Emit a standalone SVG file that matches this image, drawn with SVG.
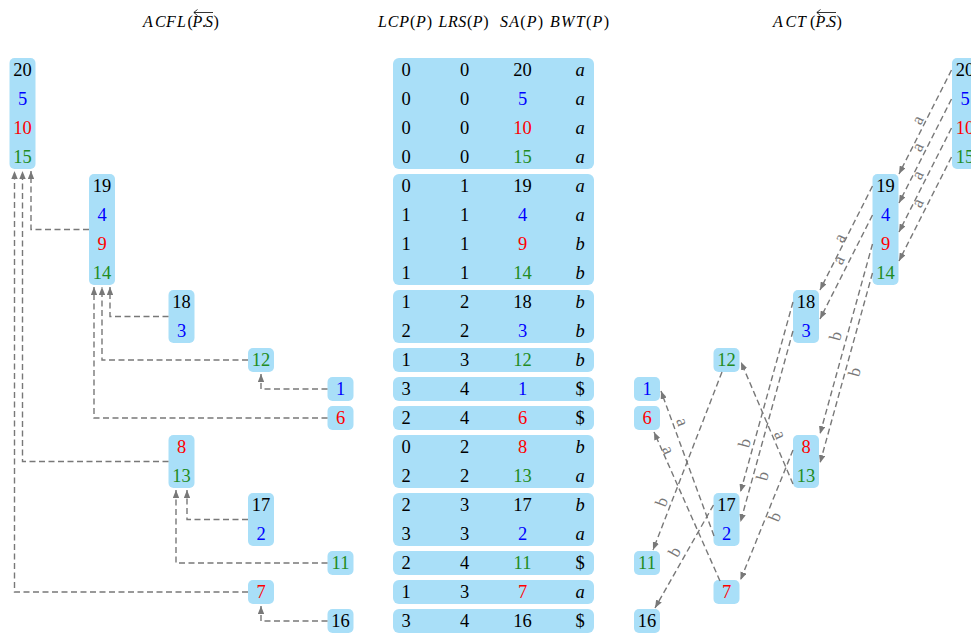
<svg xmlns="http://www.w3.org/2000/svg" width="971" height="635" viewBox="0 0 971 635">
<defs>
<style>
.box{fill:#a9dff8}
.n{font-family:"Liberation Serif","DejaVu Serif",serif;font-size:18.5px;text-anchor:middle}
.k{fill:#000}.bl{fill:#0000ff}.r{fill:#ff0000}.g{fill:#228b22}
.i{font-style:italic}
.e{fill:none;stroke:#787878;stroke-width:1.4;stroke-dasharray:6 3.5;marker-end:url(#ah)}
.lb{font-family:"Liberation Serif","DejaVu Serif",serif;font-size:17px;fill:#787878;text-anchor:middle}
.h{font-family:"Liberation Serif","DejaVu Serif",serif;font-size:16px;fill:#000}
.ov{fill:none;stroke:#000;stroke-width:0.8}
</style>
<marker id="ah" viewBox="0 0 10 8" refX="10" refY="4" markerWidth="8" markerHeight="6.4" markerUnits="userSpaceOnUse" orient="auto"><path d="M0,0 L10,4 L0,8 z" fill="#787878"/></marker>
</defs>
<rect width="971" height="635" fill="#fff"/>

<g id="headers">
<text class="h" y="27"><tspan class="i" x="143 155 166 177">ACFL</tspan><tspan x="187.5">(</tspan><tspan class="i" x="192.5">P</tspan><tspan x="202">.</tspan><tspan class="i" x="205">S</tspan><tspan x="213.5">)</tspan></text>
<path class="ov" d="M213,12.5 H194 M197.5,9.5 L193.8,12.5 L197.5,15.5"/>
<text class="h" x="378" y="27" textLength="54" lengthAdjust="spacing"><tspan class="i">LCP</tspan>(<tspan class="i">P</tspan>)</text>
<text class="h" x="438.5" y="27" textLength="50" lengthAdjust="spacing"><tspan class="i">LRS</tspan>(<tspan class="i">P</tspan>)</text>
<text class="h" x="500" y="27" textLength="43" lengthAdjust="spacing"><tspan class="i">SA</tspan>(<tspan class="i">P</tspan>)</text>
<text class="h" x="550" y="27" textLength="59" lengthAdjust="spacing"><tspan class="i">BWT</tspan>(<tspan class="i">P</tspan>)</text>
<text class="h" y="27"><tspan class="i" x="773 785.5 797">ACT</tspan><tspan x="810">(</tspan><tspan class="i" x="815.5">P</tspan><tspan x="825">.</tspan><tspan class="i" x="828">S</tspan><tspan x="836.5">)</tspan></text>
<path class="ov" d="M836,12.5 H817 M820.5,9.5 L816.8,12.5 L820.5,15.5"/>
</g>

<!-- Left tree ACFL -->
<g id="acfl-20"><rect class="box" x="9.5" y="58" width="26" height="111" rx="5"/>
<text class="n k" x="22.5" y="76">20</text><text class="n bl" x="22.5" y="105">5</text><text class="n r" x="22.5" y="134">10</text><text class="n g" x="22.5" y="163">15</text></g>
<g id="acfl-19"><rect class="box" x="89" y="174" width="26" height="111" rx="5"/>
<text class="n k" x="102" y="192">19</text><text class="n bl" x="102" y="221">4</text><text class="n r" x="102" y="250">9</text><text class="n g" x="102" y="279">14</text></g>
<g id="acfl-18"><rect class="box" x="168.5" y="290" width="26" height="53" rx="5"/>
<text class="n k" x="181.5" y="308">18</text><text class="n bl" x="181.5" y="337">3</text></g>
<g id="acfl-12"><rect class="box" x="248" y="348" width="26" height="24" rx="5"/><text class="n g" x="261" y="366">12</text></g>
<g id="acfl-1"><rect class="box" x="327.5" y="377" width="26" height="24" rx="5"/><text class="n bl" x="340.5" y="395">1</text></g>
<g id="acfl-6"><rect class="box" x="327.5" y="406" width="26" height="24" rx="5"/><text class="n r" x="340.5" y="424">6</text></g>
<g id="acfl-8"><rect class="box" x="168.5" y="435" width="26" height="53" rx="5"/>
<text class="n r" x="181.5" y="453">8</text><text class="n g" x="181.5" y="482">13</text></g>
<g id="acfl-17"><rect class="box" x="248" y="493" width="26" height="53" rx="5"/>
<text class="n k" x="261" y="511">17</text><text class="n bl" x="261" y="540">2</text></g>
<g id="acfl-11"><rect class="box" x="327.5" y="551" width="26" height="24" rx="5"/><text class="n g" x="340.5" y="569">11</text></g>
<g id="acfl-7"><rect class="box" x="248" y="580" width="26" height="24" rx="5"/><text class="n r" x="261" y="598">7</text></g>
<g id="acfl-16"><rect class="box" x="327.5" y="609" width="26" height="24" rx="5"/><text class="n k" x="340.5" y="627">16</text></g>

<!-- Table -->
<g id="table">
<rect class="box" x="393" y="58" width="201" height="111" rx="6"/>
<rect class="box" x="393" y="174" width="201" height="111" rx="6"/>
<rect class="box" x="393" y="290" width="201" height="53" rx="6"/>
<rect class="box" x="393" y="348" width="201" height="24" rx="6"/>
<rect class="box" x="393" y="377" width="201" height="24" rx="6"/>
<rect class="box" x="393" y="406" width="201" height="24" rx="6"/>
<rect class="box" x="393" y="435" width="201" height="53" rx="6"/>
<rect class="box" x="393" y="493" width="201" height="53" rx="6"/>
<rect class="box" x="393" y="551" width="201" height="24" rx="6"/>
<rect class="box" x="393" y="580" width="201" height="24" rx="6"/>
<rect class="box" x="393" y="609" width="201" height="24" rx="6"/>
<g class="n k">
<text x="406" y="76">0</text><text x="464.5" y="76">0</text><text x="522.5" y="76">20</text><text class="i" x="580" y="76">a</text>
<text x="406" y="105">0</text><text x="464.5" y="105">0</text><text class="bl" x="522.5" y="105">5</text><text class="i" x="580" y="105">a</text>
<text x="406" y="134">0</text><text x="464.5" y="134">0</text><text class="r" x="522.5" y="134">10</text><text class="i" x="580" y="134">a</text>
<text x="406" y="163">0</text><text x="464.5" y="163">0</text><text class="g" x="522.5" y="163">15</text><text class="i" x="580" y="163">a</text>
<text x="406" y="192">0</text><text x="464.5" y="192">1</text><text x="522.5" y="192">19</text><text class="i" x="580" y="192">a</text>
<text x="406" y="221">1</text><text x="464.5" y="221">1</text><text class="bl" x="522.5" y="221">4</text><text class="i" x="580" y="221">a</text>
<text x="406" y="250">1</text><text x="464.5" y="250">1</text><text class="r" x="522.5" y="250">9</text><text class="i" x="580" y="250">b</text>
<text x="406" y="279">1</text><text x="464.5" y="279">1</text><text class="g" x="522.5" y="279">14</text><text class="i" x="580" y="279">b</text>
<text x="406" y="308">1</text><text x="464.5" y="308">2</text><text x="522.5" y="308">18</text><text class="i" x="580" y="308">b</text>
<text x="406" y="337">2</text><text x="464.5" y="337">2</text><text class="bl" x="522.5" y="337">3</text><text class="i" x="580" y="337">b</text>
<text x="406" y="366">1</text><text x="464.5" y="366">3</text><text class="g" x="522.5" y="366">12</text><text class="i" x="580" y="366">b</text>
<text x="406" y="395">3</text><text x="464.5" y="395">4</text><text class="bl" x="522.5" y="395">1</text><text x="580" y="395">$</text>
<text x="406" y="424">2</text><text x="464.5" y="424">4</text><text class="r" x="522.5" y="424">6</text><text x="580" y="424">$</text>
<text x="406" y="453">0</text><text x="464.5" y="453">2</text><text class="r" x="522.5" y="453">8</text><text class="i" x="580" y="453">b</text>
<text x="406" y="482">2</text><text x="464.5" y="482">2</text><text class="g" x="522.5" y="482">13</text><text class="i" x="580" y="482">a</text>
<text x="406" y="511">2</text><text x="464.5" y="511">3</text><text x="522.5" y="511">17</text><text class="i" x="580" y="511">b</text>
<text x="406" y="540">3</text><text x="464.5" y="540">3</text><text class="bl" x="522.5" y="540">2</text><text class="i" x="580" y="540">a</text>
<text x="406" y="569">2</text><text x="464.5" y="569">4</text><text class="g" x="522.5" y="569">11</text><text x="580" y="569">$</text>
<text x="406" y="598">1</text><text x="464.5" y="598">3</text><text class="r" x="522.5" y="598">7</text><text class="i" x="580" y="598">a</text>
<text x="406" y="627">3</text><text x="464.5" y="627">4</text><text x="522.5" y="627">16</text><text x="580" y="627">$</text>
</g>
</g>

<!-- Right tree ACT -->
<g id="act-20"><rect class="box" x="952" y="58" width="26" height="111" rx="5"/>
<text class="n k" x="965" y="76">20</text><text class="n bl" x="965" y="105">5</text><text class="n r" x="965" y="134">10</text><text class="n g" x="965" y="163">15</text></g>
<g id="act-19"><rect class="box" x="872.5" y="174" width="26" height="111" rx="5"/>
<text class="n k" x="885.5" y="192">19</text><text class="n bl" x="885.5" y="221">4</text><text class="n r" x="885.5" y="250">9</text><text class="n g" x="885.5" y="279">14</text></g>
<g id="act-18"><rect class="box" x="793" y="290" width="26" height="53" rx="5"/>
<text class="n k" x="806" y="308">18</text><text class="n bl" x="806" y="337">3</text></g>
<g id="act-12"><rect class="box" x="713.5" y="348" width="26" height="24" rx="5"/><text class="n g" x="726.5" y="366">12</text></g>
<g id="act-1"><rect class="box" x="634" y="377" width="26" height="24" rx="5"/><text class="n bl" x="647" y="395">1</text></g>
<g id="act-6"><rect class="box" x="634" y="406" width="26" height="24" rx="5"/><text class="n r" x="647" y="424">6</text></g>
<g id="act-8"><rect class="box" x="793" y="435" width="26" height="53" rx="5"/>
<text class="n r" x="806" y="453">8</text><text class="n g" x="806" y="482">13</text></g>
<g id="act-17"><rect class="box" x="713.5" y="493" width="26" height="53" rx="5"/>
<text class="n k" x="726.5" y="511">17</text><text class="n bl" x="726.5" y="540">2</text></g>
<g id="act-11"><rect class="box" x="634" y="551" width="26" height="24" rx="5"/><text class="n g" x="647" y="569">11</text></g>
<g id="act-7"><rect class="box" x="713.5" y="580" width="26" height="24" rx="5"/><text class="n r" x="726.5" y="598">7</text></g>
<g id="act-16"><rect class="box" x="634" y="609" width="26" height="24" rx="5"/><text class="n k" x="647" y="627">16</text></g>

<g id="connectors">
<!-- ACFL -->
<path class="e" d="M89,229.5 H31 V171"/>
<path class="e" d="M168.5,461.5 H22.5 V171"/>
<path class="e" d="M248,592 H14.5 V171"/>
<path class="e" d="M168.5,316.5 H110 V287"/>
<path class="e" d="M248,360 H102 V287"/>
<path class="e" d="M327.5,418 H94 V287"/>
<path class="e" d="M327.5,389 H261 V374"/>
<path class="e" d="M248,519.5 H187 V490"/>
<path class="e" d="M327.5,563 H176 V490"/>
<path class="e" d="M327.5,621 H261 V606"/>
<!-- ACT -->
<path class="e" d="M951.5,70 L899,174"/>
<path class="e" d="M951.5,99 L899,203"/>
<path class="e" d="M951.5,128 L899,232"/>
<path class="e" d="M951.5,157 L899,261"/>
<path class="e" d="M872.5,186 L820,290"/>
<path class="e" d="M872.5,215 L820,319"/>
<path class="e" d="M872.5,244 L820,434"/>
<path class="e" d="M872.5,273 L820,463"/>
<path class="e" d="M793,302 L740.5,492"/>
<path class="e" d="M793,331 L740.5,522"/>
<path class="e" d="M793,450 L740.5,580"/>
<path class="e" d="M793,484 L741,362"/>
<path class="e" d="M722,372 L653,550"/>
<path class="e" d="M713.5,505 L655,608"/>
<path class="e" d="M714,536 L661,391"/>
<path class="e" d="M720,581 L654,432"/>
<g class="lb">
<text transform="translate(918,120) rotate(-63.2)" dy="0.3em">a</text>
<text transform="translate(918,147) rotate(-63.2)" dy="0.3em">a</text>
<text transform="translate(918,175) rotate(-63.2)" dy="0.3em">a</text>
<text transform="translate(918,203) rotate(-63.2)" dy="0.3em">a</text>
<text transform="translate(840,238) rotate(-63.2)" dy="0.3em">a</text>
<text transform="translate(839,260) rotate(-63.2)" dy="0.3em">a</text>
<text transform="translate(836,336) rotate(-74.6)" dy="0.3em">b</text>
<text transform="translate(855,372) rotate(-74.6)" dy="0.3em">b</text>
<text transform="translate(745,443) rotate(-74.6)" dy="0.3em">b</text>
<text transform="translate(763,476) rotate(-74.6)" dy="0.3em">b</text>
<text transform="translate(775,517) rotate(-68)" dy="0.3em">b</text>
<text transform="translate(780,435) rotate(66.9)" dy="0.3em">a</text>
<text transform="translate(662,502) rotate(-68.8)" dy="0.3em">b</text>
<text transform="translate(675,552) rotate(-60.4)" dy="0.3em">b</text>
<text transform="translate(682,422) rotate(69.9)" dy="0.3em">a</text>
<text transform="translate(668,450) rotate(66.1)" dy="0.3em">a</text>
</g>
</g>
</svg>
